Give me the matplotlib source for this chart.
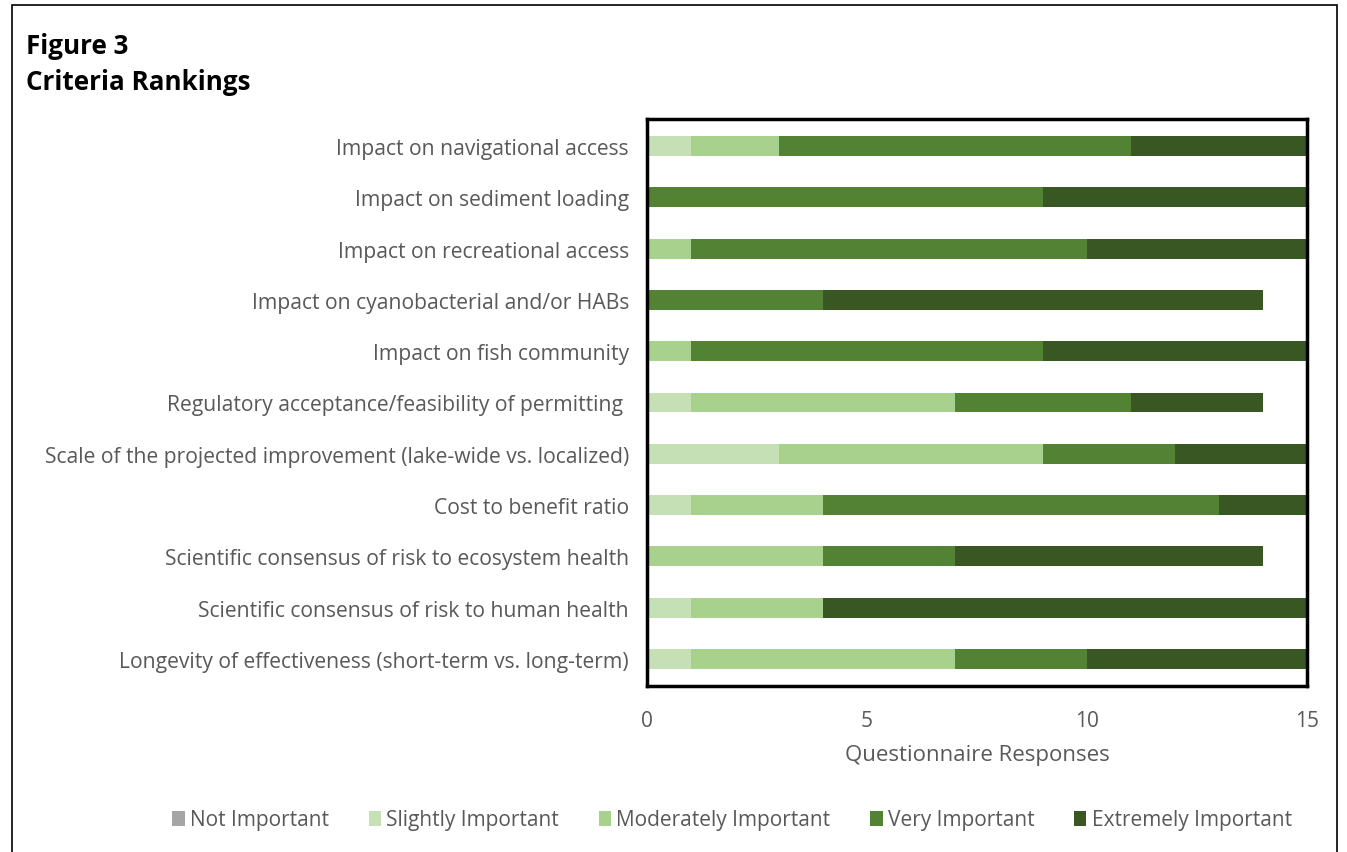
import numpy as np
import matplotlib
matplotlib.use("Agg")
import matplotlib.pyplot as plt
from matplotlib.patches import Rectangle

plt.rcParams['font.family'] = ['Open Sans', 'DejaVu Sans']

criteria = [
    "Impact on navigational access",
    "Impact on sediment loading",
    "Impact on recreational access",
    "Impact on cyanobacterial and/or HABs",
    "Impact on fish community",
    "Regulatory acceptance/feasibility of permitting ",
    "Scale of the projected improvement (lake-wide vs. localized)",
    "Cost to benefit ratio",
    "Scientific consensus of risk to ecosystem health",
    "Scientific consensus of risk to human health",
    "Longevity of effectiveness (short-term vs. long-term)",
]
not_important        = [0, 0, 0, 0, 0, 0, 0, 0, 0, 0, 0]
slightly_important   = [1, 0, 0, 0, 0, 1, 3, 1, 0, 1, 1]
moderately_important = [2, 0, 1, 0, 1, 6, 6, 3, 4, 3, 6]
very_important       = [8, 9, 9, 4, 8, 4, 3, 9, 3, 0, 3]
extremely_important  = [4, 6, 5, 10, 6, 3, 3, 2, 7, 11, 5]

series = [
    ("Not Important", not_important, "#a5a5a5"),
    ("Slightly Important", slightly_important, "#c5e0b4"),
    ("Moderately Important", moderately_important, "#a9d18e"),
    ("Very Important", very_important, "#548235"),
    ("Extremely Important", extremely_important, "#385723"),
]

W, H = 1347, 853
fig = plt.figure(figsize=(W / 100, H / 100), dpi=100)
ax = fig.add_axes([647 / W, 1 - 687 / H, (1307 - 647) / W, (687 - 120) / H])

y = np.arange(len(criteria))
left = np.zeros(len(criteria))
for name, vals, col in series:
    vals = np.array(vals, dtype=float)
    ax.barh(y, vals, left=left, height=0.39, color=col, label=name)
    left += vals

ax.set_xlim(0, 15)
ax.set_ylim(len(criteria) - 0.47, -0.53)
ax.set_yticks(y)
ax.set_yticklabels(criteria, fontsize=15.2, color="#595959")
ax.set_xticks([0, 5, 10, 15])
ax.tick_params(axis="x", labelsize=15, colors="#595959", length=0, pad=17)
ax.tick_params(axis="y", length=0, pad=13)
ax.set_xlabel("Questionnaire Responses", fontsize=16, color="#595959", labelpad=10)
for s in ax.spines.values():
    s.set_linewidth(2.5)
    s.set_color("black")

leg = fig.legend(loc="center", bbox_to_anchor=(732 / W, 1 - 821 / H), ncol=5,
                 frameon=False, fontsize=15, handlelength=0.6, handleheight=0.7,
                 handletextpad=0.25, columnspacing=1.9)
for t in leg.get_texts():
    t.set_color("#595959")

fig.text(26 / W, 1 - 46 / H, "Figure 3", fontsize=18.7, fontweight="bold", va="center")
fig.text(26 / W, 1 - 83 / H, "Criteria Rankings", fontsize=18.7, fontweight="bold", va="center")

fig.patches.append(Rectangle((12 / W, -0.05), (1337 - 12) / W, 1 - 6 / H + 0.05,
                             transform=fig.transFigure, fill=False,
                             edgecolor="black", linewidth=1.2))

fig.savefig("out.png", dpi=100)
